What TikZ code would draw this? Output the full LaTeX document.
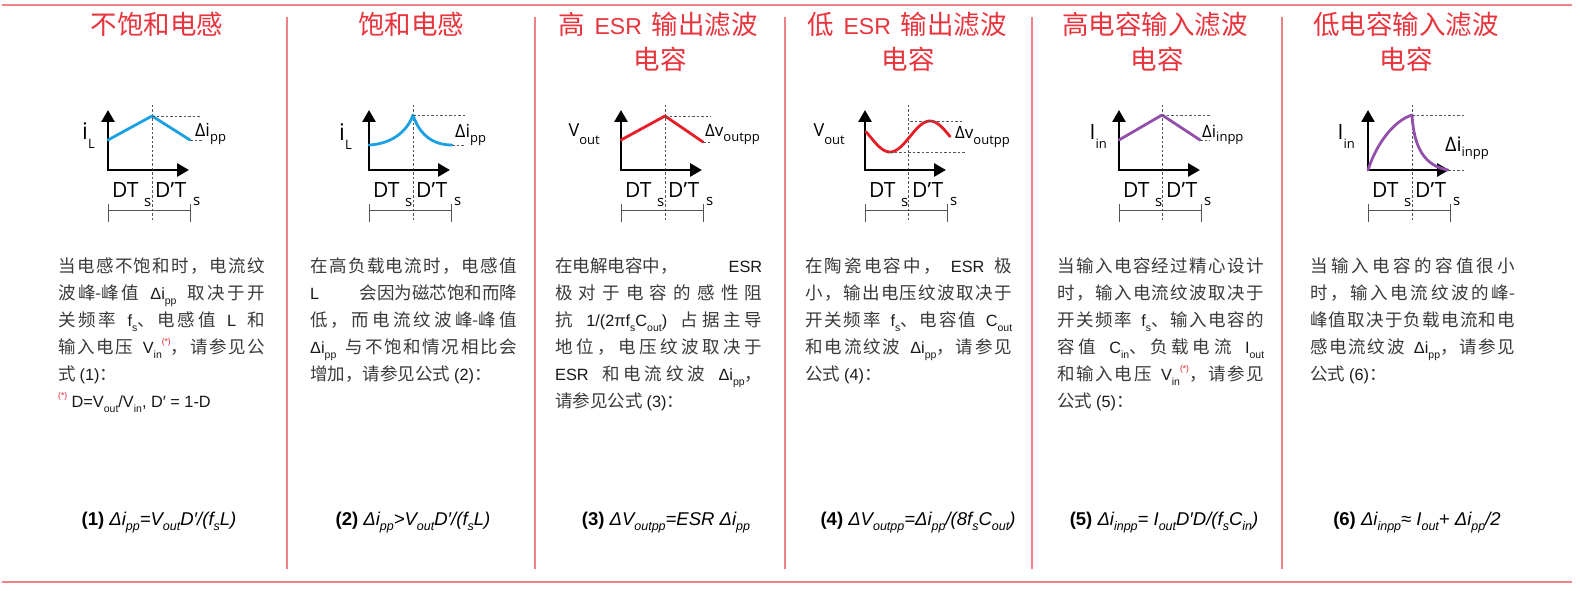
\documentclass[tikz,border=0pt]{standalone}
\usepackage{fontspec}
\setmainfont{Noto Sans CJK SC}
\newfontfamily\lt{Liberation Sans}
\newfontfamily\gf{Open Sans}
\usetikzlibrary{arrows.meta}
% inter-character glue between CJK characters (for justified lines)
\XeTeXinterchartokenstate=1
\newXeTeXintercharclass\cjkc
\newcount\cjkcnt
\cjkcnt="4E00
\loop
  \XeTeXcharclass\cjkcnt=\cjkc
  \advance\cjkcnt by 1
\ifnum\cjkcnt<"A000 \repeat
\XeTeXcharclass"FF0C=\cjkc
\XeTeXcharclass"FF1A=\cjkc
\XeTeXcharclass"3001=\cjkc
\XeTeXinterchartoks\cjkc\cjkc={\hskip0pt plus 1pt\relax}
\definecolor{ttlred}{RGB}{232,52,60}
\definecolor{sepred}{RGB}{240,130,135}
\definecolor{bodyg}{RGB}{58,58,58}
\definecolor{latg}{RGB}{25,25,25}
\definecolor{cblue}{RGB}{27,161,226}
\definecolor{cred}{RGB}{230,30,40}
\definecolor{cpurp}{RGB}{146,80,170}
\definecolor{astred}{RGB}{230,30,40}
\definecolor{dgray}{RGB}{85,85,85}
\newcommand\lat[1]{{\color{latg}\lt\fontsize{16.3}{18}\selectfont #1}}
\newcommand\tsb[1]{\raisebox{-0.32em}{\fontsize{10.5}{11}\selectfont #1}}
\newcommand\astm{\raisebox{0.55em}{\color{astred}\fontsize{8.5}{8.5}\selectfont(*)}}
\newcommand\jl[2][207pt]{\makebox[#1][s]{#2}}
\newcommand\lastl[1]{\makebox[207pt][l]{#1}}
\newcommand\fsb[1]{\raisebox{-0.28em}{\fontsize{12.5}{12.5}\selectfont #1}}
\newcommand\gsb[2]{\raisebox{-#1pt}{\fontsize{13}{13}\selectfont #2}}
\newcommand\gp{\hspace{6pt plus 2pt}}
\tikzset{
  ttl/.style={anchor=base, inner sep=0, font=\fontsize{26.5}{30}\selectfont, text=ttlred},
  bt/.style={anchor=base west, inner sep=0, font=\fontsize{17.5}{21}\selectfont, text=bodyg},
  frm/.style={anchor=base, inner sep=0, font=\lt\fontsize{18.5}{20}\selectfont, text=black},
  gl/.style={inner sep=0, font=\gf, text=black},
  axs/.style={line width=2.8pt, line join=miter, arrows={Triangle[length=12pt,width=13pt]-Triangle[length=12pt,width=13pt]}},
  dl/.style={line width=0.9pt, dgray, dash pattern=on 2.5pt off 2pt},
  brk/.style={line width=1pt, dgray},
  crv/.style={line width=2.8pt, line cap=round, line join=round},
  sep/.style={line width=1.2pt, sepred}
}
\newcommand\gbase[1]{%
  \draw[axs] (0,110) -- (0,170) -- (81,170);
  \draw[dl] (#1,105) -- (#1,222);
  \draw[brk] (0,204) -- (0,222) (0,210) -- (82,210) (82,204) -- (82,222);
}
\newcommand\tlab[1]{%
  \node[gl,anchor=base west] (#1t1) at (4,197) {\fontsize{21}{21}\selectfont DT};
  \node[gl,anchor=base west] (#1s1) at (36,207) {\fontsize{15}{15}\selectfont s};
  \node[gl,anchor=base west] (#1t2) at (47,197) {\fontsize{21}{21}\selectfont D’T};
  \node[gl,anchor=base west] (#1s2) at (85,205) {\fontsize{15}{15}\selectfont s};
}
\begin{document}
\begin{tikzpicture}[x=1pt,y=-1pt]
\useasboundingbox (0,0) rectangle (1580,591);
\fill[white] (0,0) rectangle (1580,591);
% frame lines
\draw[line width=1.8pt, sepred] (2,5) -- (1572,5);
\draw[line width=1.8pt, sepred] (2,582) -- (1572,582);
\foreach \sx in {287,535,785,1032,1282} \draw[sep] (\sx,17) -- (\sx,569);
% titles
\node[ttl] (h1) at (157,35) {不饱和电感};
\node[ttl] (h2) at (411,35) {饱和电感};
\node[ttl] (h3a) at (658,35) {高\hspace{10pt}{\lt\fontsize{23}{25}\selectfont ESR}\hspace{10pt}输出滤波};
\node[ttl] (h3b) at (660,70) {电容};
\node[ttl] (h4a) at (907,35) {低\hspace{10pt}{\lt\fontsize{23}{25}\selectfont ESR}\hspace{10pt}输出滤波};
\node[ttl] (h4b) at (908,70) {电容};
\node[ttl] (h5a) at (1155,35) {高电容输入滤波};
\node[ttl] (h5b) at (1157,70) {电容};
\node[ttl] (h6a) at (1406,35) {低电容输入滤波};
\node[ttl] (h6b) at (1406,70) {电容};
% graph 1
\begin{scope}[shift={(108,0)}]
\gbase{44}
\draw[crv,cblue] (0,140) -- (44,116) -- (82,140);
\draw[dl] (44,116) -- (92,116) (82,140) -- (94,140);
\node[gl,anchor=base east] (c1y) at (-13,140) {\fontsize{23}{23}\selectfont i\gsb{9}{L}};
\node[gl,anchor=base west] (c1d) at (87,137) {\fontsize{18}{18}\selectfont Δi\gsb{5}{pp}};
\tlab{c1}
\end{scope}
% graph 2
\begin{scope}[shift={(369,0)}]
\gbase{44}
\draw[crv,cblue] (0,145) .. controls (22,144) and (38,132) .. (44,115) .. controls (50,133) and (62,145) .. (83,145);
\draw[dl] (44,115) -- (96,115) (83,145) -- (96,145);
\node[gl,anchor=base east] (c2y) at (-17,141) {\fontsize{23}{23}\selectfont i\gsb{9}{L}};
\node[gl,anchor=base west] (c2d) at (86,138) {\fontsize{18}{18}\selectfont Δi\gsb{5}{pp}};
\tlab{c2}
\end{scope}
% graph 3
\begin{scope}[shift={(621,0)}]
\gbase{44}
\draw[crv,cred] (0,140) -- (44,116) -- (82,142);
\draw[dl] (44,116) -- (90,116) (82,142) -- (91,142);
\node[gl,anchor=base east] (c3y) at (-21,137) {\fontsize{18}{18}\selectfont V\gsb{8}{out}};
\node[gl,anchor=base west] (c3d) at (84,137) {\fontsize{17}{17}\selectfont Δv\gsb{5}{outpp}};
\tlab{c3}
\end{scope}
% graph 4
\begin{scope}[shift={(865,0)}]
\gbase{43}
\draw[crv,cred] plot[domain=1:85, samples=60, smooth] (\x, {136.5+15.5*cos(180*(\x-25)/40)});
\draw[dl] (45,121) -- (97,121) (25,152) -- (100,152);
\node[gl,anchor=base east] (c4y) at (-20,137) {\fontsize{18}{18}\selectfont V\gsb{8}{out}};
\node[gl,anchor=base west] (c4d) at (90,139) {\fontsize{17}{17}\selectfont Δv\gsb{6}{outpp}};
\tlab{c4}
\end{scope}
% graph 5
\begin{scope}[shift={(1119,0)}]
\gbase{43}
\draw[crv,cpurp] (0,140) -- (43,115) -- (81,140);
\draw[dl] (43,115) -- (91,115) (81,140) -- (91,140);
\node[gl,anchor=base east] (c5y) at (-12,140) {\fontsize{21}{21}\selectfont I\gsb{9}{in}};
\node[gl,anchor=base west] (c5d) at (83,138) {\fontsize{17}{17}\selectfont Δi\gsb{4}{inpp}};
\tlab{c5}
\end{scope}
% graph 6
\begin{scope}[shift={(1368,0)}]
\gbase{44}
\draw[crv,cpurp] (0,170) .. controls (8,145) and (25,121) .. (44,115) .. controls (46,150) and (58,166) .. (80,170);
\draw[dl] (44,115) -- (97,115) (80,170) -- (97,170);
\node[gl,anchor=base east] (c6y) at (-13,140) {\fontsize{21}{21}\selectfont I\gsb{9}{in}};
\node[gl,anchor=base west] (c6d) at (77,152) {\fontsize{20}{20}\selectfont Δi\gsb{5}{inpp}};
\tlab{c6}
\end{scope}
% body column 1
\node[bt] (b1a) at (58,272) {\jl{当电感不饱和时，电流纹}};
\node[bt] (b1b) at (58,299) {\jl{波峰-峰值\gp\lat{Δi\tsb{pp}}\gp 取决于开}};
\node[bt] (b1c) at (58,326) {\jl{关频率\gp\lat{f\tsb{s}}、电感值\gp\lat{L}\gp 和}};
\node[bt] (b1d) at (58,353) {\jl{输入电压\gp\lat{V\tsb{in}\astm}，请参见公}};
\node[bt] (b1e) at (58,380) {\lastl{式 \lat{(1)}：}};
\node[bt] (b1f) at (58,407) {\lastl{\lat{\astm\ D=V\tsb{out}/V\tsb{in}, D′ = 1-D}}};
% body column 2
\node[bt] (b2a) at (310,272) {\jl{在高负载电流时，电感值}};
\node[bt] (b2b) at (310,299) {\jl{\lat{L}\hfill 会因为磁芯饱和而降}};
\node[bt] (b2c) at (310,326) {\jl{低，而电流纹波峰-峰值}};
\node[bt] (b2d) at (310,353) {\jl{\lat{Δi\tsb{pp}}\gp 与不饱和情况相比会}};
\node[bt] (b2e) at (310,380) {\lastl{增加，请参见公式 \lat{(2)}：}};
% body column 3
\node[bt] (b3a) at (555,272) {\jl{在电解电容中，\hfill\lat{ESR}}};
\node[bt] (b3b) at (555,299) {\jl{极对于电容的感性阻}};
\node[bt] (b3c) at (555,326) {\jl{抗\gp\lat{1/(2πf\tsb{s}C\tsb{out})}\gp 占据主导}};
\node[bt] (b3d) at (555,353) {\jl{地位，电压纹波取决于}};
\node[bt] (b3e) at (555,380) {\jl{\lat{ESR}\gp 和电流纹波\gp\lat{Δi\tsb{pp}}，}};
\node[bt] (b3f) at (555,407) {\lastl{请参见公式 \lat{(3)}：}};
% body column 4
\node[bt] (b4a) at (805,272) {\jl{在陶瓷电容中，\gp\lat{ESR}\gp 极}};
\node[bt] (b4b) at (805,299) {\jl{小，输出电压纹波取决于}};
\node[bt] (b4c) at (805,326) {\jl{开关频率\gp\lat{f\tsb{s}}、电容值\gp\lat{C\tsb{out}}}};
\node[bt] (b4d) at (805,353) {\jl{和电流纹波\gp\lat{Δi\tsb{pp}}，请参见}};
\node[bt] (b4e) at (805,380) {\lastl{公式 \lat{(4)}：}};
% body column 5
\node[bt] (b5a) at (1057,272) {\jl{当输入电容经过精心设计}};
\node[bt] (b5b) at (1057,299) {\jl{时，输入电流纹波取决于}};
\node[bt] (b5c) at (1057,326) {\jl{开关频率\gp\lat{f\tsb{s}}、输入电容的}};
\node[bt] (b5d) at (1057,353) {\jl{容值\gp\lat{C\tsb{in}}、负载电流\gp\lat{I\tsb{out}}}};
\node[bt] (b5e) at (1057,380) {\jl{和输入电压\gp\lat{V\tsb{in}\astm}，请参见}};
\node[bt] (b5f) at (1057,407) {\lastl{公式 \lat{(5)}：}};
% body column 6
\node[bt] (b6a) at (1310,272) {\jl[205pt]{当输入电容的容值很小}};
\node[bt] (b6b) at (1310,299) {\jl[205pt]{时，输入电流纹波的峰-}};
\node[bt] (b6c) at (1310,326) {\jl[205pt]{峰值取决于负载电流和电}};
\node[bt] (b6d) at (1310,353) {\jl[205pt]{感电流纹波\gp\lat{Δi\tsb{pp}}，请参见}};
\node[bt] (b6e) at (1310,380) {\lastl{公式 \lat{(6)}：}};
% formulas
\node[frm] (f1) at (159,525) {{\bfseries (1)} \textit{Δi\fsb{pp}=V\fsb{out}D′/(f\fsb{s}L)}};
\node[frm] (f2) at (413,525) {{\bfseries (2)} \textit{Δi\fsb{pp}>V\fsb{out}D′/(f\fsb{s}L)}};
\node[frm] (f3) at (666,525) {{\bfseries (3)} \textit{ΔV\fsb{outpp}=ESR Δi\fsb{pp}}};
\node[frm] (f4) at (918,525) {{\bfseries (4)} \textit{ΔV\fsb{outpp}=Δi\fsb{pp}/(8f\fsb{s}C\fsb{out})}};
\node[frm] (f5) at (1164,525) {{\bfseries (5)} \textit{Δi\fsb{inpp}= I\fsb{out}D′D/(f\fsb{s}C\fsb{in})}};
\node[frm] (f6) at (1417,525) {{\bfseries (6)} \textit{Δi\fsb{inpp}≈ I\fsb{out}+ Δi\fsb{pp}/2}};
\end{tikzpicture}
\end{document}
